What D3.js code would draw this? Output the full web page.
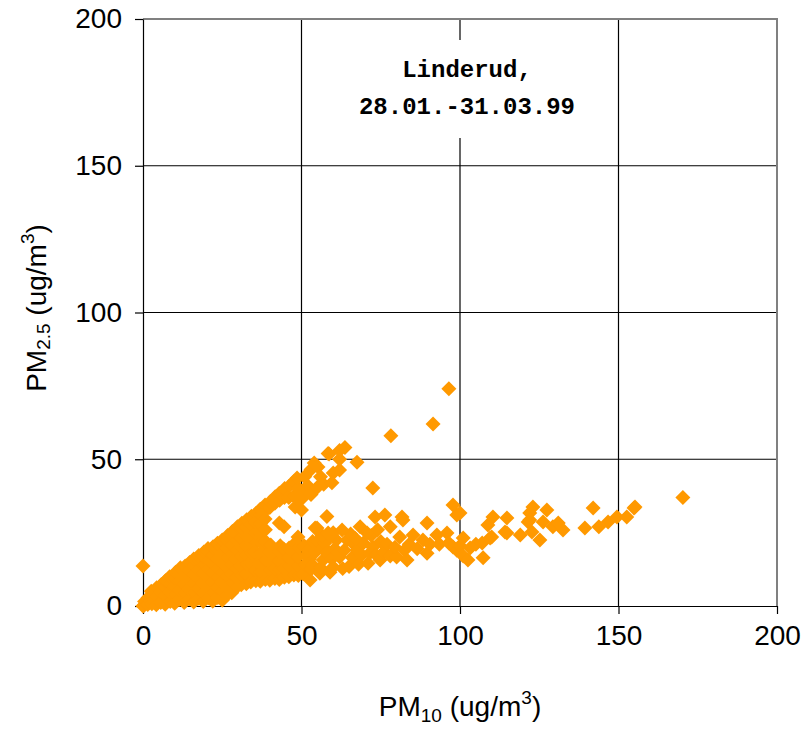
<!DOCTYPE html>
<html>
<head>
<meta charset="utf-8">
<script src="https://cdn.jsdelivr.net/npm/d3@7"></script>
<style>
  body { margin: 0; background: #fff; }
  text { font-family: "Liberation Sans", Arial, sans-serif; }
</style>
</head>
<body>
<div id="chart"></div>
<script>
// PM10 vs PM2.5 pairs (ug/m3)
const coreBand = [
  [0, 0], [0.3, 0.2], [0.5, 1.5], [1.5, 0.5], [1.6, 2.8], [2.8, 0.8], [3, 3.2], [2.6, 5],
  [4.2, 0.4], [4.4, 3], [4.3, 6.2], [5.6, 1.2], [5.5, 4.5], [5.8, 7.3],
  [7, 0.6], [7.2, 3.6], [6.9, 6.5], [7.1, 8.6], [8.6, 1.5], [8.5, 4.8], [8.8, 7.6], [8.4, 10],
  [10, 0.9], [10.2, 3.9], [9.9, 6.8], [10.1, 9.6], [10.3, 11.5],
  [11.5, 2.2], [11.4, 5.5], [11.7, 8.4], [11.6, 11.2], [11.8, 13],
  [13, 1.2], [13.2, 4.4], [12.9, 7.5], [13.1, 10.4], [13.3, 13.6],
  [14.6, 2.5], [14.5, 5.8], [14.8, 9], [14.4, 12], [14.7, 14.8],
  [16, 1.4], [16.2, 4.6], [15.9, 7.7], [16.1, 11], [16.3, 13.8], [16, 16],
  [17.6, 2.6], [17.5, 5.9], [17.8, 9.2], [17.4, 12.4], [17.7, 15.4], [17.6, 17.2],
  [19, 1.5], [19.2, 4.5], [18.9, 7.8], [19.1, 11], [19.3, 14.1], [19, 17], [19.2, 18.4],
  [20.6, 2.8], [20.5, 6], [20.8, 9.4], [20.4, 12.6], [20.7, 15.6], [20.6, 18.7], [20.5, 19.6],
  [22, 1.6], [22.2, 4.6], [21.9, 7.9], [22.1, 11.2], [22.3, 14.4], [22, 17.4], [22.1, 20.2],
  [23.6, 2.9], [23.5, 6.2], [23.8, 9.6], [23.4, 12.8], [23.7, 16], [23.6, 19.2], [23.5, 21.4],
  [25, 2], [25.2, 5], [24.9, 8.2], [25.1, 11.4], [25.3, 14.6], [25, 17.8], [25.2, 20.8], [25, 22.5],
  [26.6, 3.8], [26.5, 7], [26.8, 10.2], [26.4, 13.4], [26.7, 16.6], [26.6, 19.8], [26.5, 22.6], [26.7, 24],
  [28, 4.5], [28.2, 8], [27.9, 11.2], [28.1, 14.4], [28.3, 17.6], [28, 20.8], [28.1, 23.8], [28.2, 25.4],
  [29.6, 6.5], [29.5, 9.6], [29.8, 12.8], [29.4, 16], [29.7, 19.2], [29.6, 22.4], [29.5, 25.2], [29.8, 27],
  [31, 7.2], [31.2, 10.4], [30.9, 13.6], [31.1, 16.8], [31.3, 20], [31, 23.2], [31.1, 26.4], [31.2, 28.2],
  [32.6, 7.6], [32.5, 11], [32.8, 14.2], [32.4, 17.4], [32.7, 20.6], [32.6, 23.8], [32.5, 26.8], [32.7, 29.4],
  [34, 8.2], [34.2, 11.6], [33.9, 14.8], [34.1, 18], [34.3, 21.2], [34, 24.6], [34.1, 27.6], [34.2, 30.6],
  [35.6, 8.6], [35.5, 12], [35.8, 15.2], [35.4, 18.4], [35.7, 21.6], [35.6, 25], [35.5, 28.4], [35.7, 31.6],
  [37, 8.4], [37.2, 11.6], [36.9, 14.8], [37.1, 18], [37.3, 21.4], [37, 24.8], [37.1, 28.2], [37.2, 31], [37, 33],
  [38.6, 9], [38.5, 12.4], [38.8, 15.6], [38.4, 18.8], [38.7, 22], [38.6, 26], [38.5, 29.6], [38.7, 32.6], [38.5, 34.4],
  [40, 8.8], [40.2, 12], [39.9, 15.2], [40.1, 18.4], [40.3, 20.8], [40, 33.6], [40.2, 35.6]
];

const lowerBranch = [
  [41.6, 9.4], [41.5, 12.8], [41.8, 16], [41.4, 19.2], [43, 9], [43.2, 12.2], [42.9, 15.4], [43.1, 18.6], [43.3, 20.5],
  [44.6, 9.8], [44.5, 13], [44.8, 16.2], [44.4, 19.4], [46, 10], [46.2, 13.4], [45.9, 16.6], [46.1, 19.8],
  [47.6, 10.6], [47.5, 14], [47.8, 17.2], [47.4, 20.4], [48, 21.5], [49, 10.4], [49.2, 13.6], [48.9, 16.8], [49.1, 20],
  [48.9, 23.5], [50.5, 11], [51, 14], [51.5, 17.5], [50.8, 20.5], [52.7, 8.9], [53, 12.5], [52.5, 16], [52, 19],
  [53.5, 22], [53.5, 14], [54.5, 18.5], [55, 22], [55.8, 11.2], [56, 13], [56.8, 15.7], [57, 20], [57.4, 21.5],
  [58, 18], [59, 11.5], [59.5, 16], [60, 13.3], [60.5, 19.5], [61, 22.5], [61.5, 18], [62, 16.7], [63, 12.8],
  [63.5, 19], [64.4, 22.5], [65, 13.5], [66, 16.5], [66.5, 21], [67.5, 19], [68, 14.2], [69, 17.5], [69.5, 21.5],
  [71, 14.6], [71.5, 18], [72.5, 20], [73.5, 17.5], [74.8, 15.7], [75, 22], [76, 18.5], [77, 21], [78, 17],
  [80, 16.7], [79.5, 20], [81, 23.5], [82.5, 19], [83.3, 15.7], [84, 21], [85.2, 24.2], [86.5, 19.5], [88.3, 22.5],
  [89.6, 18], [90.5, 21], [92.7, 24.2], [93.5, 21], [95.9, 24.9], [96.5, 21.5], [97.8, 20.1], [99, 19], [100, 20.5],
  [101, 23.2], [101, 17], [102.5, 15.7], [103.2, 19.8], [105, 21], [107, 21.5], [107.3, 16.4],
  [56.5, 24], [60, 25], [65.5, 24.5], [67, 23], [72, 24], [74, 26]
];

const upperBranch = [
  [41.6, 35], [41.7, 37.2], [43.1, 36], [43, 38.4], [43, 28.3], [44.5, 27], [44.6, 37], [44.7, 40],
  [46, 37], [46.2, 41], [47.6, 37.5], [47.7, 42.5], [48, 33.7], [49, 36], [49.1, 40], [48.6, 43.6],
  [50, 32.7], [50.5, 37], [50, 38.5], [51, 44], [52, 41], [53, 46.5], [53, 38], [54, 48.7], [55.2, 47.4],
  [55, 40.5], [56, 44], [57, 41.5], [58.4, 52], [58.7, 51.8], [59.6, 42], [60, 45.3], [62, 46.3], [62, 50],
  [62, 53], [63.7, 54], [67.5, 49], [72.5, 40.2], [78.2, 58], [91.5, 62], [96.5, 74]
];

const midScatter = [
  [54.3, 26.6], [54.9, 26.6], [58, 30.5], [58.4, 24.9], [59, 24.2], [62.8, 25.9], [68.5, 27], [70.7, 24.9],
  [73.2, 30.3], [76.3, 31], [78, 27], [81.7, 30.3], [82, 29.3], [89.6, 28.3], [97.8, 34.4], [99, 31],
  [100, 31.7], [0, 13.6]
];

const tailPoints = [
  [108.8, 27.6], [109.5, 23.2], [110, 23.5], [110.4, 30.3], [114.2, 25.2], [114.8, 30], [114.8, 24.9],
  [119, 24.2], [121.5, 28.6], [122, 31.7], [122.7, 25.2], [122, 29.3], [123, 33.7], [125.2, 22.5],
  [126.2, 28.6], [127.4, 32.7], [129.3, 27], [131, 28.3], [132.5, 25.9], [139.4, 26.6], [142, 33.4],
  [143.8, 27], [146.7, 28.6], [149.5, 30.3], [152.6, 30.3], [154.9, 33.4], [155.2, 33.7], [170.3, 37]
];

const xTicks = [0, 50, 100, 150, 200];
const yTicks = [0, 50, 100, 150, 200];
const titleLines = ["Linderud,", "28.01.-31.03.99"];

const width = 807, height = 733;
const margin = { top: 19, right: 30, bottom: 127, left: 143 };

const svg = d3.select("#chart").append("svg")
  .attr("width", width)
  .attr("height", height);

const xScale = d3.scaleLinear()
  .domain([0, 200])
  .range([margin.left, width - margin.right]);

const yScale = d3.scaleLinear()
  .domain([0, 200])
  .range([height - margin.bottom, margin.top]);

// gridlines
svg.append("g")
  .selectAll("line.vgrid")
  .data(xTicks.slice(1, -1))
  .join("line")
  .attr("x1", d => xScale(d)).attr("x2", d => xScale(d))
  .attr("y1", yScale(200)).attr("y2", yScale(0))
  .attr("stroke", "#000").attr("stroke-width", 1.2);

svg.append("g")
  .selectAll("line.hgrid")
  .data(yTicks.slice(1, -1))
  .join("line")
  .attr("x1", xScale(0)).attr("x2", xScale(200))
  .attr("y1", d => yScale(d)).attr("y2", d => yScale(d))
  .attr("stroke", "#000").attr("stroke-width", 1.2);

// plot area frame on top / right
svg.append("path")
  .attr("d", `M${xScale(0)},${yScale(200)}H${xScale(200)}V${yScale(0)}`)
  .attr("fill", "none")
  .attr("stroke", "#808080")
  .attr("stroke-width", 2);

// title box
const tb = svg.append("g");
tb.append("rect")
  .attr("x", 348).attr("y", 40)
  .attr("width", 240).attr("height", 98)
  .attr("fill", "#fff");
tb.selectAll("text")
  .data(titleLines)
  .join("text")
  .attr("x", 467)
  .attr("y", (d, i) => 77 + i * 37)
  .attr("text-anchor", "middle")
  .style("font-family", "'Courier New', 'Liberation Mono', monospace")
  .style("font-weight", "bold")
  .style("font-size", "24px")
  .attr("fill", "#000")
  .text(d => d);

// axes
const xAxis = svg.append("g")
  .attr("transform", `translate(0,${yScale(0)})`)
  .call(d3.axisBottom(xScale).tickValues(xTicks).tickSize(8).tickPadding(11).tickSizeOuter(0));

const yAxis = svg.append("g")
  .attr("transform", `translate(${xScale(0)},0)`)
  .call(d3.axisLeft(yScale).tickValues(yTicks).tickSize(8).tickPadding(13).tickSizeOuter(0));

[xAxis, yAxis].forEach(a => {
  a.select(".domain").attr("stroke", "#000").attr("stroke-width", 1.2);
  a.selectAll(".tick line").attr("stroke", "#000").attr("stroke-width", 1.2);
  a.selectAll(".tick text")
    .style("font-family", "'Liberation Sans', Arial, sans-serif")
    .style("font-size", "28px")
    .attr("fill", "#000");
});

// points
const allPoints = [].concat(coreBand, lowerBranch, upperBranch, midScatter, tailPoints);
const r = 7.5;
svg.append("g")
  .selectAll("path")
  .data(allPoints)
  .join("path")
  .attr("transform", d => `translate(${xScale(d[0])},${yScale(d[1])})`)
  .attr("d", `M0,${-r}L${r},0L0,${r}L${-r},0Z`)
  .attr("fill", "#ff9900");

// axis titles
const xt = svg.append("text")
  .attr("x", 460).attr("y", 716)
  .attr("text-anchor", "middle")
  .style("font-size", "28px")
  .attr("fill", "#000");
xt.append("tspan").text("PM");
xt.append("tspan").attr("dy", 6).style("font-size", "19px").text("10");
xt.append("tspan").attr("dy", -6).text(" (ug/m");
xt.append("tspan").attr("dy", -12).style("font-size", "19px").text("3");
xt.append("tspan").attr("dy", 12).text(")");

const yt = svg.append("text")
  .attr("transform", "translate(46,308) rotate(-90)")
  .attr("text-anchor", "middle")
  .style("font-size", "28px")
  .attr("fill", "#000");
yt.append("tspan").text("PM");
yt.append("tspan").attr("dy", 4).style("font-size", "19px").text("2.5");
yt.append("tspan").attr("dy", -4).text(" (ug/m");
yt.append("tspan").attr("dy", -12).style("font-size", "19px").text("3");
yt.append("tspan").attr("dy", 12).text(")");
</script>
</body>
</html>
